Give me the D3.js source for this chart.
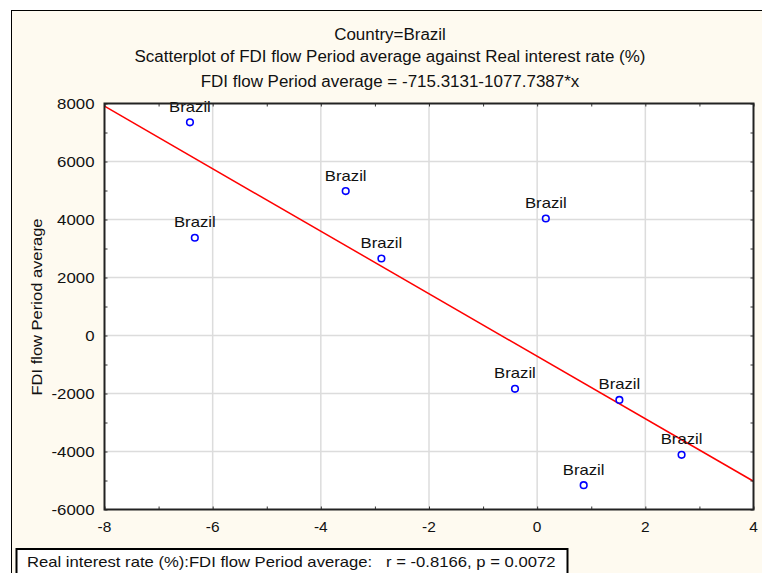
<!DOCTYPE html>
<html><head><meta charset="utf-8">
<script src="https://cdn.jsdelivr.net/npm/d3@7/dist/d3.min.js"></script>
<style>body{margin:0;background:#fff}svg{display:block}text{font-family:"Liberation Sans",Arial,sans-serif;fill:#111;white-space:pre}</style>
</head><body>
<script>
const countries = ["Brazil","Brazil","Brazil","Brazil","Brazil","Brazil","Brazil","Brazil","Brazil"];
const realRate = [-6.42, -6.33, -3.54, -2.88, 0.16, -0.41, 1.52, 2.67, 0.86];
const fdiFlow = [7350, 3370, 4980, 2655, 4035, -1840, -2220, -4115, -5160];
const xTicks = [-8, -6, -4, -2, 0, 2, 4];
const yTicks = [-6000, -4000, -2000, 0, 2000, 4000, 6000, 8000];
const xMinor = [-8,-7,-6,-5,-4,-3,-2,-1,0,1,2,3,4];
const yMinor = [-6000,-5000,-4000,-3000,-2000,-1000,0,1000,2000,3000,4000,5000,6000,7000,8000];
const intercept = -715.3131, slope = -1077.7387;
const titles = ["Country=Brazil",
  "Scatterplot of FDI flow Period average against Real interest rate (%)",
  "FDI flow Period average = -715.3131-1077.7387*x"];
const yTitle = "FDI flow Period average";
const legendText = "Real interest rate (%):FDI flow Period average:   r = -0.8166, p = 0.0072";

const W = 762, H = 573;
const L = 104.5, R = 753.5, T = 103.5, B = 509.5;
const svg = d3.select("body").append("svg").attr("width", W).attr("height", H);
svg.append("rect").attr("x", 11.5).attr("y", 10.5).attr("width", 770).attr("height", 600)
  .attr("fill", "#fefaf0").attr("stroke", "#000").attr("stroke-width", 1);

const x = d3.scaleLinear().domain([-8, 4]).range([L, R]);
const y = d3.scaleLinear().domain([-6000, 8000]).range([B, T]);

function stretch(sel, k) {
  sel.each(function () {
    const len = this.getComputedTextLength();
    d3.select(this).attr("textLength", len * k).attr("lengthAdjust", "spacingAndGlyphs");
  });
}

svg.append("rect").attr("x", L).attr("y", T).attr("width", R - L).attr("height", B - T).attr("fill", "#fff");

// grid
const g = svg.append("g");
g.selectAll(".gx").data(xTicks.slice(1, -1)).join("line")
  .attr("x1", d => x(d)).attr("x2", d => x(d)).attr("y1", T).attr("y2", B)
  .attr("stroke", "#dcdcdc").attr("stroke-width", 1.5);
g.selectAll(".gy").data(yTicks.slice(1, -1)).join("line")
  .attr("y1", d => y(d)).attr("y2", d => y(d)).attr("x1", L).attr("x2", R)
  .attr("stroke", "#dcdcdc").attr("stroke-width", 1.5);

// regression line
svg.append("clipPath").attr("id", "clip").append("rect").attr("x", L).attr("y", T).attr("width", R - L).attr("height", B - T);
svg.append("line").attr("clip-path", "url(#clip)")
  .attr("x1", x(-8)).attr("y1", y(intercept + slope * -8))
  .attr("x2", x(4)).attr("y2", y(intercept + slope * 4))
  .attr("stroke", "#ff0000").attr("stroke-width", 1.5);

// points
const pts = realRate.map((r, i) => ({ r, f: fdiFlow[i], c: countries[i] }));
svg.selectAll(".pt").data(pts).join("circle")
  .attr("cx", d => x(d.r)).attr("cy", d => y(d.f)).attr("r", 3.3)
  .attr("fill", "none").attr("stroke", "#0000ff").attr("stroke-width", 1.6);
svg.selectAll(".lbl").data(pts).join("text")
  .attr("x", d => x(d.r)).attr("y", d => y(d.f) - 10.5)
  .attr("text-anchor", "middle").attr("font-size", 14.5).text(d => d.c)
  .call(stretch, 1.15);

// axes (ticks inward)
const ax = svg.append("g");
ax.append("g").attr("transform", `translate(0,${B})`)
  .call(d3.axisBottom(x).tickValues(xMinor).tickSize(-3).tickFormat(""));
ax.append("g").attr("transform", `translate(0,${T})`)
  .call(d3.axisTop(x).tickValues(xMinor).tickSize(-3).tickFormat(""));
ax.append("g").attr("transform", `translate(${L},0)`)
  .call(d3.axisLeft(y).tickValues(yMinor).tickSize(-3).tickFormat(""));
ax.append("g").attr("transform", `translate(${R},0)`)
  .call(d3.axisRight(y).tickValues(yMinor).tickSize(-3).tickFormat(""));
ax.selectAll(".domain").remove();
ax.selectAll("line").attr("stroke", "#333").attr("stroke-width", 1);

svg.append("rect").attr("x", L).attr("y", T).attr("width", R - L).attr("height", B - T)
  .attr("fill", "none").attr("stroke", "#222").attr("stroke-width", 2);

// tick labels
svg.selectAll(".xt").data(xTicks).join("text")
  .attr("x", d => x(d)).attr("y", 531.5).attr("text-anchor", "middle")
  .attr("font-size", 15).text(d => d).call(stretch, 1.03);
svg.selectAll(".yt").data(yTicks).join("text")
  .attr("x", 94.5).attr("y", d => y(d) + 5).attr("text-anchor", "end")
  .attr("font-size", 15).text(d => d).call(stretch, 1.12);

// titles
const tY = [40, 61.5, 86.5];
svg.selectAll(".tt").data(titles).join("text")
  .attr("x", 390).attr("y", (d, i) => tY[i]).attr("text-anchor", "middle")
  .attr("font-size", 16).text(d => d).call(stretch, 1.06);

svg.append("text").attr("transform", `translate(41.5,307) rotate(-90)`)
  .attr("text-anchor", "middle").attr("font-size", 15).text(yTitle).call(stretch, 1.1);

// legend box
svg.append("rect").attr("x", 16.5).attr("y", 549).attr("width", 551).attr("height", 40)
  .attr("fill", "#fff").attr("stroke", "#000").attr("stroke-width", 2);
svg.append("text").attr("x", 27).attr("y", 567).attr("font-size", 15).text(legendText).call(stretch, 1.11);
</script>
</body></html>
